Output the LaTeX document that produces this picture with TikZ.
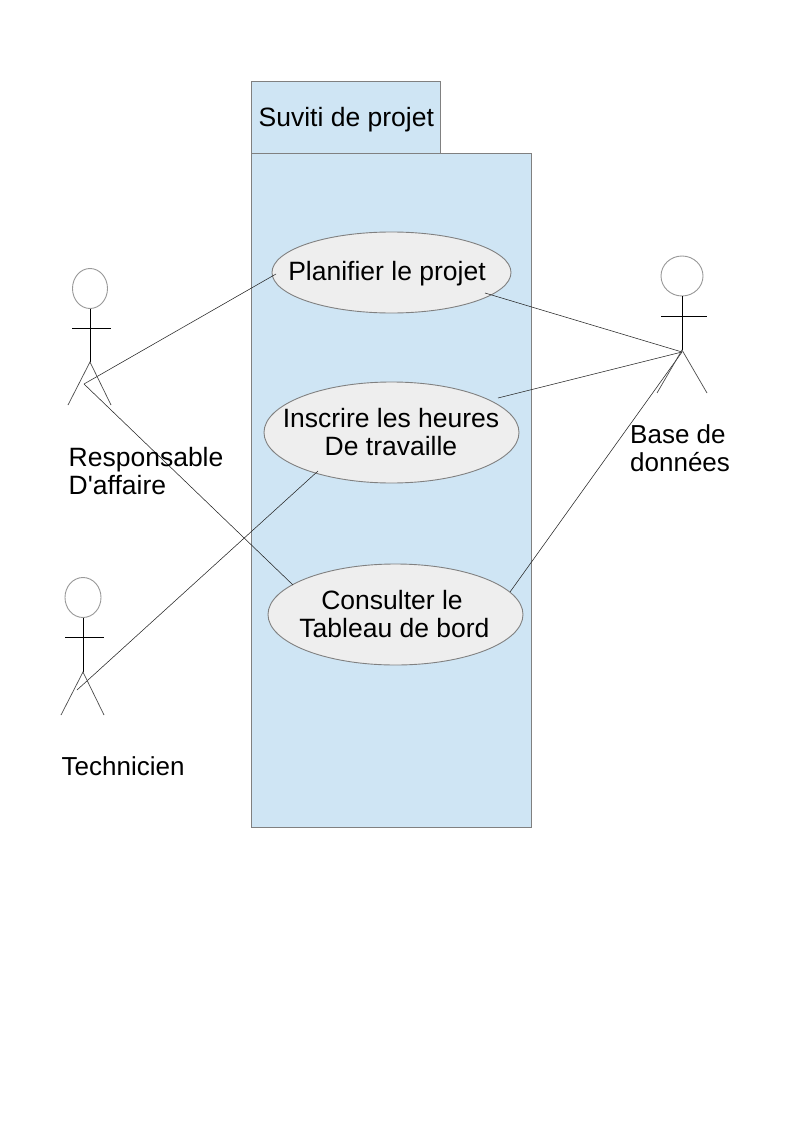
\documentclass[tikz,border=0pt]{standalone}
\usepackage{fontspec}
\newfontfamily\plainf{Liberation Sans}
\usetikzlibrary{shapes.geometric}
\definecolor{pkgblue}{HTML}{CFE5F4}
\definecolor{usefill}{HTML}{EEEEEE}
\definecolor{edgegrey}{HTML}{808080}
\tikzset{
  pkg/.style={draw=edgegrey,fill=pkgblue,line width=0.9pt},
  usecase/.style={draw=edgegrey,fill=usefill,line width=0.9pt,ellipse,inner sep=0pt},
  head/.style={draw=edgegrey!80,fill=white,line width=0.9pt,ellipse,inner sep=0pt},
  limb/.style={draw=black,line width=0.9pt},
  leg/.style={draw=black!70,line width=0.7pt},
  link/.style={draw=black!85,line width=0.55pt},
  lbl/.style={inner sep=0pt,align=left,anchor=west,font=\plainf\fontsize{26.5}{28}\selectfont},
  lblsm/.style={lbl,font=\plainf\fontsize{26}{28}\selectfont}
}
\begin{document}
\begin{tikzpicture}[x=1pt,y=-1pt]
\useasboundingbox (0,0) rectangle (794,1123);
\fill[white] (0,0) rectangle (794,1123);
% package
\draw[pkg] (251.5,81.5) rectangle (440.5,153.5);
\draw[pkg] (251.5,153.5) rectangle (531.5,827.5);
\node[lbl] (title) at (258.5,120) {Suviti de projet};
% connector anchor points
\coordinate (respHip) at (84,384);
\coordinate (techHip) at (77,690);
\coordinate (baseHip) at (682,352);
\coordinate (planL) at (276,274);
\coordinate (planR) at (485,293);
\coordinate (inscR) at (498,398);
\coordinate (inscL) at (318,471);
\coordinate (consL) at (293,585);
\coordinate (consR) at (510,592);
% use cases
\node[usecase,minimum width=239pt,minimum height=81pt] (plan) at (391.5,272.5) {};
\node[usecase,minimum width=255pt,minimum height=101pt] (insc) at (391.5,432.5) {};
\node[usecase,minimum width=255pt,minimum height=101pt] (cons) at (395.5,614.5) {};
\node[lbl,anchor=center] (planT) at (387,273.5) {Planifier le projet};
\node[lbl,anchor=center,align=center] (inscT) at (391,432) {Inscrire les heures\\De travaille};
\node[lbl,anchor=base] (consT1) at (392,609) {Consulter le};
\node[lbl,anchor=base] (consT2) at (394.5,637) {Tableau de bord};
% connectors
\draw[link] (planL) -- (respHip);
\draw[link] (consL) -- (respHip);
\draw[link] (inscL) -- (techHip);
\draw[link] (planR) -- (baseHip);
\draw[link] (inscR) -- (baseHip);
\draw[link] (consR) -- (baseHip);
% actor: Responsable
\node[head,minimum width=35pt,minimum height=40pt] (h1) at (90,288.5) {};
\coordinate (c1) at (90,362);
\draw[limb] (h1.south) -- (c1);
\draw[limb] (72,328) -- (111,328);
\draw[leg] (68,405) -- (c1) -- (111,405);
% actor: Technicien
\node[head,minimum width=36pt,minimum height=40pt] (h2) at (83,597.5) {};
\coordinate (c2) at (83,672);
\draw[limb] (h2.south) -- (c2);
\draw[limb] (65,637.5) -- (104,637.5);
\draw[leg] (61,715) -- (c2) -- (104,715);
% actor: Base
\node[head,minimum width=42pt,minimum height=40pt] (h3) at (682,276) {};
\coordinate (c3) at (682,350);
\draw[limb] (h3.south) -- (c3);
\draw[limb] (661,316) -- (707,316);
\draw[leg] (657,393) -- (c3) -- (707,393);
% actor labels
\node[lbl] (r1) at (68.5,459.5) {Responsable};
\node[lbl] (r2) at (68.5,485) {D'affaire};
\node[lblsm] (t1) at (61.5,766.5) {Technicien};
\node[lblsm] (b1) at (630,434) {Base de};
\node[lblsm] (b2) at (630,462.5) {données};
\end{tikzpicture}
\end{document}
